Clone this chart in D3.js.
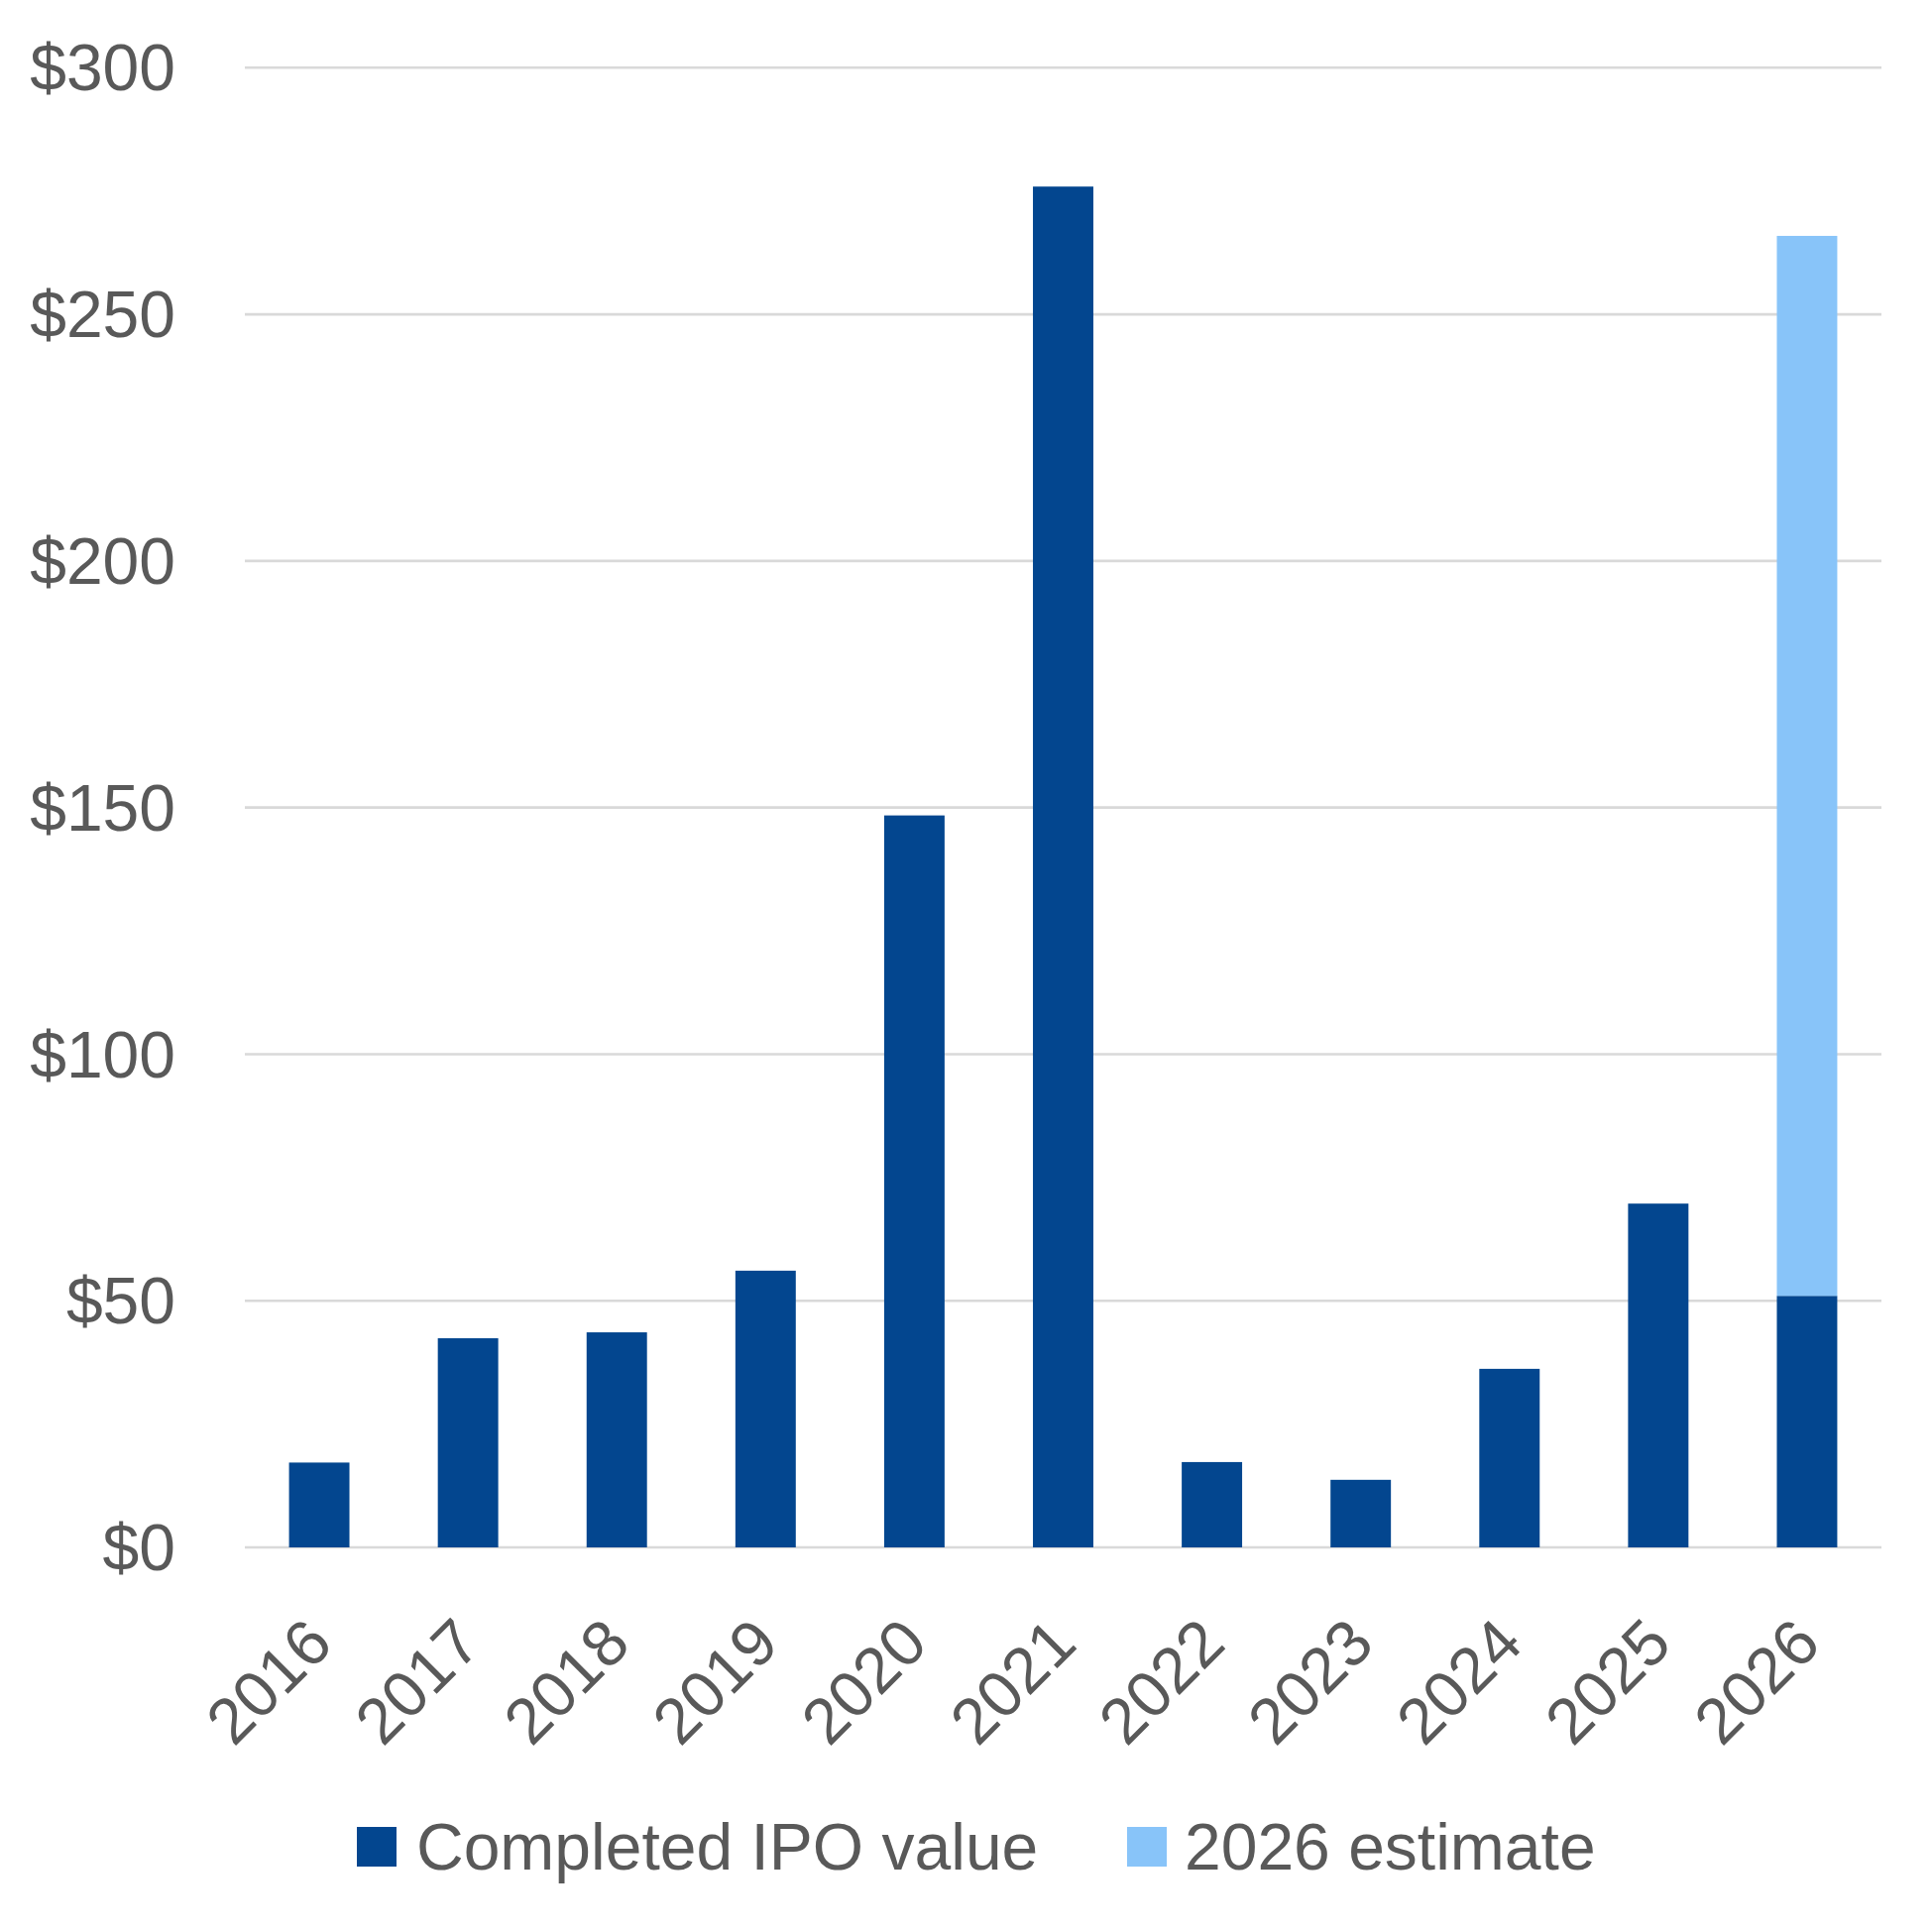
<!DOCTYPE html>
<html>
<head>
<meta charset="utf-8">
<script src="https://cdn.jsdelivr.net/npm/d3@7"></script>
<style>
  html, body { margin: 0; padding: 0; background: #ffffff; }
  svg { display: block; }
</style>
</head>
<body>
<script>
const years = ["2016","2017","2018","2019","2020","2021","2022","2023","2024","2025","2026"];
const completed = [17.2, 42.4, 43.6, 56.1, 148.4, 275.9, 17.3, 13.7, 36.2, 69.7, 51.0];
const estimate = [0, 0, 0, 0, 0, 0, 0, 0, 0, 0, 214.9];
const yTicks = [0, 50, 100, 150, 200, 250, 300];
const seriesNames = ["Completed IPO value", "2026 estimate"];
const seriesColors = ["#03468F", "#88C4F9"];

const W = 1949, H = 1949;
const plotLeft = 247, plotRight = 1898, plotTop = 68.3, plotBottom = 1561;
const svg = d3.select("body").append("svg").attr("width", W).attr("height", H);

const x = d3.scaleBand().domain(years).range([plotLeft, plotRight]).paddingInner(0.594).paddingOuter(0.297);
const y = d3.scaleLinear().domain([0, 300]).range([plotBottom, plotTop]);

// gridlines
svg.append("g").selectAll("line").data(yTicks).join("line")
  .attr("x1", plotLeft).attr("x2", plotRight)
  .attr("y1", d => y(d)).attr("y2", d => y(d))
  .attr("stroke", "#d9d9d9").attr("stroke-width", 2.6);

// y labels
svg.append("g").selectAll("text").data(yTicks).join("text")
  .attr("x", 177).attr("y", d => y(d)).attr("dy", "0.35em")
  .attr("text-anchor", "end")
  .attr("font-family", "Liberation Sans, Arial, sans-serif")
  .attr("font-size", 66).attr("fill", "#595959")
  .text(d => "$" + d);

// stacked bars
const rows = years.map((yr, i) => ({year: yr, completed: completed[i], estimate: estimate[i]}));
const stack = d3.stack().keys(["completed", "estimate"])(rows);
svg.append("g").selectAll("g").data(stack).join("g")
  .attr("fill", (d, i) => seriesColors[i])
  .selectAll("rect").data(d => d.filter(p => p[1] - p[0] > 0)).join("rect")
  .attr("x", d => x(d.data.year))
  .attr("width", x.bandwidth())
  .attr("y", d => y(d[1]))
  .attr("height", d => y(d[0]) - y(d[1]));

// x labels
svg.append("g").selectAll("text").data(years).join("text")
  .attr("transform", d => `translate(${x(d) + x.bandwidth() / 2 + 16},${plotBottom + 100}) rotate(-45)`)
  .attr("text-anchor", "end")
  .attr("font-family", "Liberation Sans, Arial, sans-serif")
  .attr("font-size", 65).attr("fill", "#595959")
  .text(d => d);

// legend
const legendItems = [
  {name: seriesNames[0], color: seriesColors[0], sx: 360, tx: 420},
  {name: seriesNames[1], color: seriesColors[1], sx: 1137, tx: 1195}
];
const lg = svg.append("g");
lg.selectAll("rect").data(legendItems).join("rect")
  .attr("x", d => d.sx).attr("y", 1843).attr("width", 40).attr("height", 40)
  .attr("fill", d => d.color);
lg.selectAll("text").data(legendItems).join("text")
  .attr("x", d => d.tx).attr("y", 1886)
  .attr("font-family", "Liberation Sans, Arial, sans-serif")
  .attr("font-size", 66).attr("fill", "#595959")
  .text(d => d.name);
</script>
</body>
</html>
